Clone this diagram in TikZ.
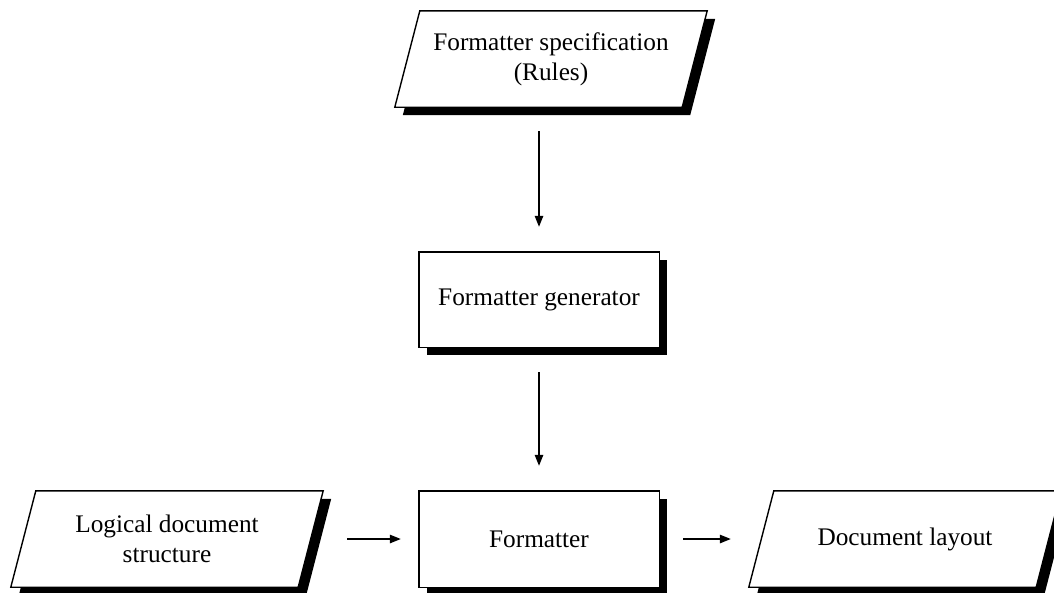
\documentclass[tikz,border=0pt]{standalone}
\usepackage{fontspec}
\setmainfont{Liberation Serif}
\usetikzlibrary{arrows.meta,calc,backgrounds}
\begin{document}
\begin{tikzpicture}[x=1pt,y=-1pt,
  box/.style={rectangle, inner sep=0pt, align=center,
    font=\fontsize{25.3}{30}\selectfont},
  wide/.style={box, minimum width=287pt, minimum height=96pt},
  narrow/.style={box, minimum width=240pt, minimum height=96pt},
  outline/.style={draw=black, line width=1.4pt, fill=white},
  shadow/.style={fill=black},
  flow/.style={-{Triangle[length=11pt,width=8.5pt]}, line width=1.3pt},
  % slanted data box around a node, offset by #2 (used for the drop shadow)
  parapath/.style args={#1/#2}{insert path={
    ($(#1.south west)+(-12.5+#2,#2)$) -- ($(#1.south east)+(-12.5+#2,#2)$) --
    ($(#1.north east)+(12.5+#2,#2)$) -- ($(#1.north west)+(12.5+#2,#2)$) -- cycle}},
  rectpath/.style args={#1/#2}{insert path={
    ($(#1.south west)+(#2,#2)$) rectangle ($(#1.north east)+(#2,#2)$)}}
]
\useasboundingbox (0,0) rectangle (1054,592);

\node[wide] (spec) at (551,59) {Formatter specification\\(Rules)};
\node[narrow, minimum height=95pt] (gen) at (539,299.5) {Formatter generator};
\node[narrow] (fmt) at (539,539) {Formatter};
\node[wide] (logic) at (167,539) {Logical document\\structure};
\node[wide] (layout) at (905,539) {Document layout};

\begin{scope}[on background layer]
  \fill[shadow, parapath=spec/8];
  \path[outline, parapath=spec/0];
  \fill[shadow, rectpath=gen/8];
  \path[outline, rectpath=gen/0];
  \fill[shadow, rectpath=fmt/8];
  \path[outline, rectpath=fmt/0];
  \fill[shadow, parapath=logic/8];
  \path[outline, parapath=logic/0];
  \fill[shadow, parapath=layout/8];
  \path[outline, parapath=layout/0];
\end{scope}

\draw[flow, shorten <=24pt, shorten >=25pt] (gen.north |- spec.south) -- (gen.north);
\draw[flow, shorten <=25pt, shorten >=25pt] (gen.south) -- (fmt.north);
\draw[flow, shorten <=36.5pt, shorten >=18pt] (logic.east) -- (fmt.west);
\draw[flow, shorten <=24pt, shorten >=30.5pt] (fmt.east) -- (layout.west);
\end{tikzpicture}
\end{document}
